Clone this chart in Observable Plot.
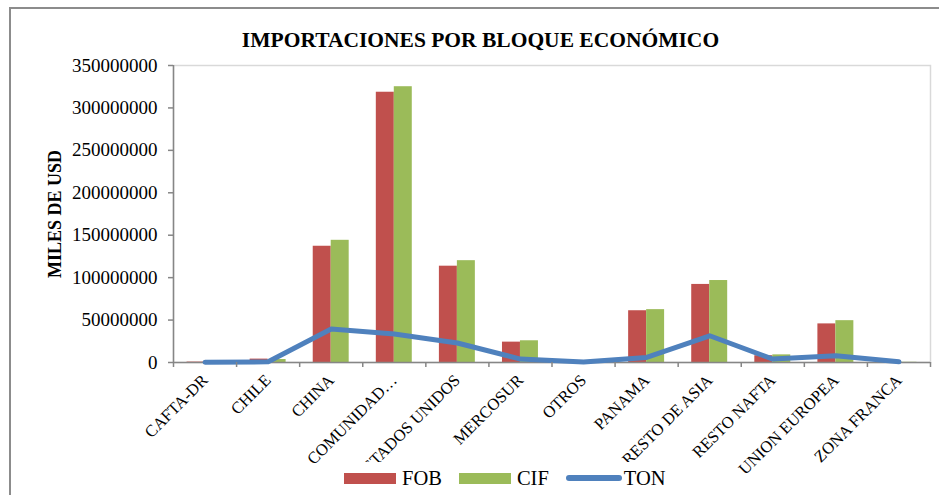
<!DOCTYPE html>
<html>
<head>
<meta charset="utf-8">
<script src="https://cdn.jsdelivr.net/npm/d3@7"></script>
<script src="https://cdn.jsdelivr.net/npm/@observablehq/plot@0.6"></script>
<style>
  html, body { margin: 0; padding: 0; background: #fff; }
  #wrap { position: relative; width: 939px; height: 495px; overflow: hidden; font-family: "Liberation Serif", "Times New Roman", serif; }
  #box { position: absolute; left: 9px; top: 7px; width: 940px; height: 500px; border-top: 2px solid #8c8c8c; border-left: 2px solid #8c8c8c; box-sizing: border-box; }
  #chart { position: absolute; left: 0; top: 0; }
  #title { position: absolute; left: 0; width: 939px; top: 28px; text-align: center; padding-left: 22px; box-sizing: border-box; font-weight: bold; font-size: 21.5px; line-height: 1.15; color: #000; }
  #legend { position: absolute; left: 340px; top: 462px; display: flex; align-items: center; font-size: 20.5px; line-height: 1; color: #000; background: #fff; padding: 6px 4px 4px 4px; }
  .sw { width: 52px; height: 11px; margin-right: 6px; }
  .ln { width: 56px; height: 6px; border-radius: 3px; margin-right: 2px; }
  .lab { margin-right: 17px; }
  .lab:last-child { margin-right: 0; }
</style>
</head>
<body>
<div id="wrap">
  <div id="box"></div>
  <div id="chart"></div>
  <div id="title"></div>
  <div id="legend"></div>
</div>
<script>
const title = "IMPORTACIONES POR BLOQUE ECONÓMICO";
const yLabel = "MILES DE USD";
const categories = ["CAFTA-DR", "CHILE", "CHINA", "COMUNIDAD…", "ESTADOS UNIDOS", "MERCOSUR", "OTROS", "PANAMA", "RESTO DE ASIA", "RESTO NAFTA", "UNION EUROPEA", "ZONA FRANCA"];
const fob = [500000, 4000000, 137000000, 318500000, 113500000, 24000000, 300000, 61000000, 92000000, 8000000, 45500000, 200000];
const cif = [600000, 3500000, 144000000, 325000000, 120000000, 25600000, 350000, 62300000, 96600000, 9000000, 49300000, 250000];
const ton = [300000, 800000, 39500000, 33600000, 23000000, 4000000, 500000, 6000000, 31500000, 4000000, 8000000, 800000];
const seriesNames = ["FOB", "CIF", "TON"];
const yTicks = [0, 50000000, 100000000, 150000000, 200000000, 250000000, 300000000, 350000000];

const colors = {FOB: "#C0504D", CIF: "#9BBB59", TON: "#4F81BD"};

const idx = categories.map((c, i) => i);
const half = 0.285;
const fobData = idx.map(i => ({i, cat: categories[i], v: fob[i]}));
const cifData = idx.map(i => ({i, cat: categories[i], v: cif[i]}));
const tonData = idx.map(i => ({i, cat: categories[i], v: ton[i]}));
const bounds = d3.range(categories.length + 1).map(k => k - 0.5);

const plot = Plot.plot({
  width: 939,
  height: 495,
  marginLeft: 173,
  marginRight: 9,
  marginTop: 65,
  marginBottom: 133,
  style: {fontFamily: "'Liberation Serif', 'Times New Roman', serif", background: "transparent", color: "#000"},
  x: {type: "linear", domain: [-0.5, categories.length - 0.5]},
  y: {domain: [0, 350000000]},
  marks: [
    Plot.frame({stroke: "#D9D9D9", strokeWidth: 1.5}),
    Plot.rectY(fobData, {x1: d => d.i - half, x2: d => d.i, y: "v", fill: colors.FOB}),
    Plot.rectY(cifData, {x1: d => d.i, x2: d => d.i + half, y: "v", fill: colors.CIF}),
    Plot.ruleY([0], {stroke: "#868686", strokeWidth: 1.5}),
    Plot.ruleX([-0.5], {stroke: "#868686", strokeWidth: 1.5}),
    Plot.line(tonData, {x: "i", y: "v", stroke: colors.TON, strokeWidth: 5, strokeLinecap: "round", strokeLinejoin: "round"}),
    Plot.axisY({ticks: yTicks, tickFormat: d3.format("d"), tickSize: 5, tickPadding: 11, fontSize: 19, stroke: "#868686", strokeWidth: 1.5, label: null}),
    Plot.axisX({ticks: bounds, tickSize: 5, tickFormat: () => "", stroke: "#868686", strokeWidth: 1.5, label: null}),
    Plot.axisX({ticks: idx, tickSize: 0, tickPadding: 15, tickRotate: -45, tickFormat: i => categories[i], fontSize: 16.5, label: null}),
    Plot.text([yLabel], {frameAnchor: "left", rotate: -90, dx: -118, textAnchor: "middle", fontWeight: "bold", fontSize: 18, fill: "#000"})
  ]
});
document.getElementById("chart").appendChild(plot);
document.getElementById("title").textContent = title;

const legend = document.getElementById("legend");
seriesNames.forEach(name => {
  const sw = document.createElement("div");
  sw.className = name === "TON" ? "ln" : "sw";
  sw.style.background = colors[name];
  legend.appendChild(sw);
  const lab = document.createElement("span");
  lab.className = "lab";
  lab.textContent = name;
  legend.appendChild(lab);
});
</script>
</body>
</html>
